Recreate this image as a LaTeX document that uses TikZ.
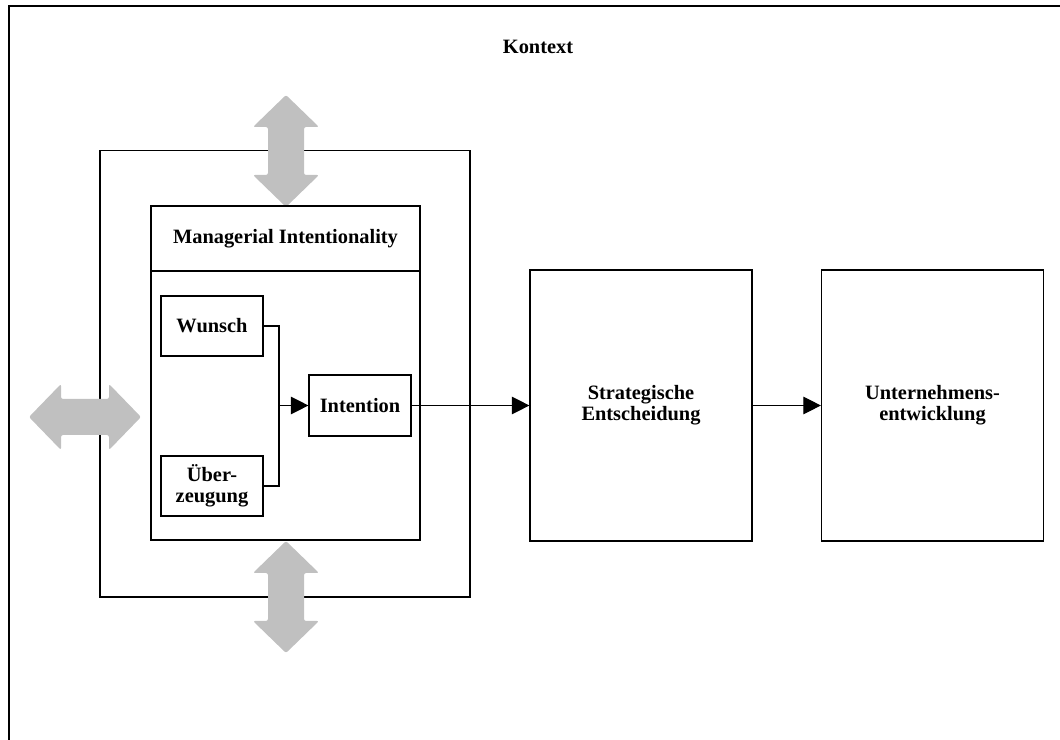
\documentclass[tikz,border=0pt]{standalone}
\usepackage{fontspec}
\setmainfont{Liberation Serif}
\usetikzlibrary{arrows.meta}
\definecolor{arrowgray}{RGB}{192,192,192}
\tikzstyle{box} = [rectangle, draw, line width=0.8pt, text centered, align=center, font=\bfseries\fontsize{14.5}{15}\selectfont, inner sep=0pt]
\tikzstyle{smallbox} = [box, minimum width=2.55cm, minimum height=1.5cm]
\tikzstyle{bigbox} = [box, minimum width=5.55cm, minimum height=6.775cm]
\tikzstyle{arrow} = [line width=0.8pt, -{Triangle[length=12.5pt, width=12.5pt]}]
\tikzstyle{frame} = [line width=1.2pt]
\tikzset{
  dblarrow/.pic={
    \fill[arrowgray, rounded corners=1.5pt] (0,-56) -- (33,-24) -- (18,-24) -- (18,24) -- (33,24)
      -- (0,56) -- (-33,24) -- (-18,24) -- (-18,-24) -- (-33,-24) -- cycle;
  }
}

\begin{document}
\begin{tikzpicture}[x=0.025cm, y=-0.025cm]
            \useasboundingbox (0,0) rectangle (1060,740);
            \draw [frame] (9,740) |- (1060,6);
            \node [font=\bfseries\fontsize{14.5}{15}\selectfont] at (538,47) (kontext) {Kontext};
            % Umgebung der Managerial Intentionality
            \node [box, minimum width=9.25cm, minimum height=11.15cm] at (285,374) (umfeld) {};
            \pic at (286,151) {dblarrow};
            \pic at (286,597) {dblarrow};
            \pic [rotate=90] at (85,417) {dblarrow};
            \node [box, minimum width=6.725cm, minimum height=8.35cm] at (285.5,373) (mi) {};
            \node [box, minimum width=6.725cm, minimum height=1.625cm] at (285.5,238.5) (mititle) {Managerial Intentionality};
            \node [smallbox] at (212,326) (wunsch) {Wunsch};
            \node [smallbox] at (212,486) (ueberzeugung) {Über-\\zeugung};
            \node [smallbox, minimum height=1.525cm] at (360,405.5) (intention) {Intention};
            \node [bigbox] at (641,405.5) (entscheidung) {Strategische\\Entscheidung};
            \node [bigbox] at (932.5,405.5) (entwicklung) {Unternehmens-\\entwicklung};
            \coordinate (join) at (279,405.5);
            \draw [line width=0.8pt] (wunsch.east) -| (join) |- (ueberzeugung.east);
            \draw [arrow] (join) -- (intention);
            \draw [arrow] (intention) -- (entscheidung);
            \draw [arrow] (entscheidung) -- (entwicklung);
            \end{tikzpicture}
\end{document}
